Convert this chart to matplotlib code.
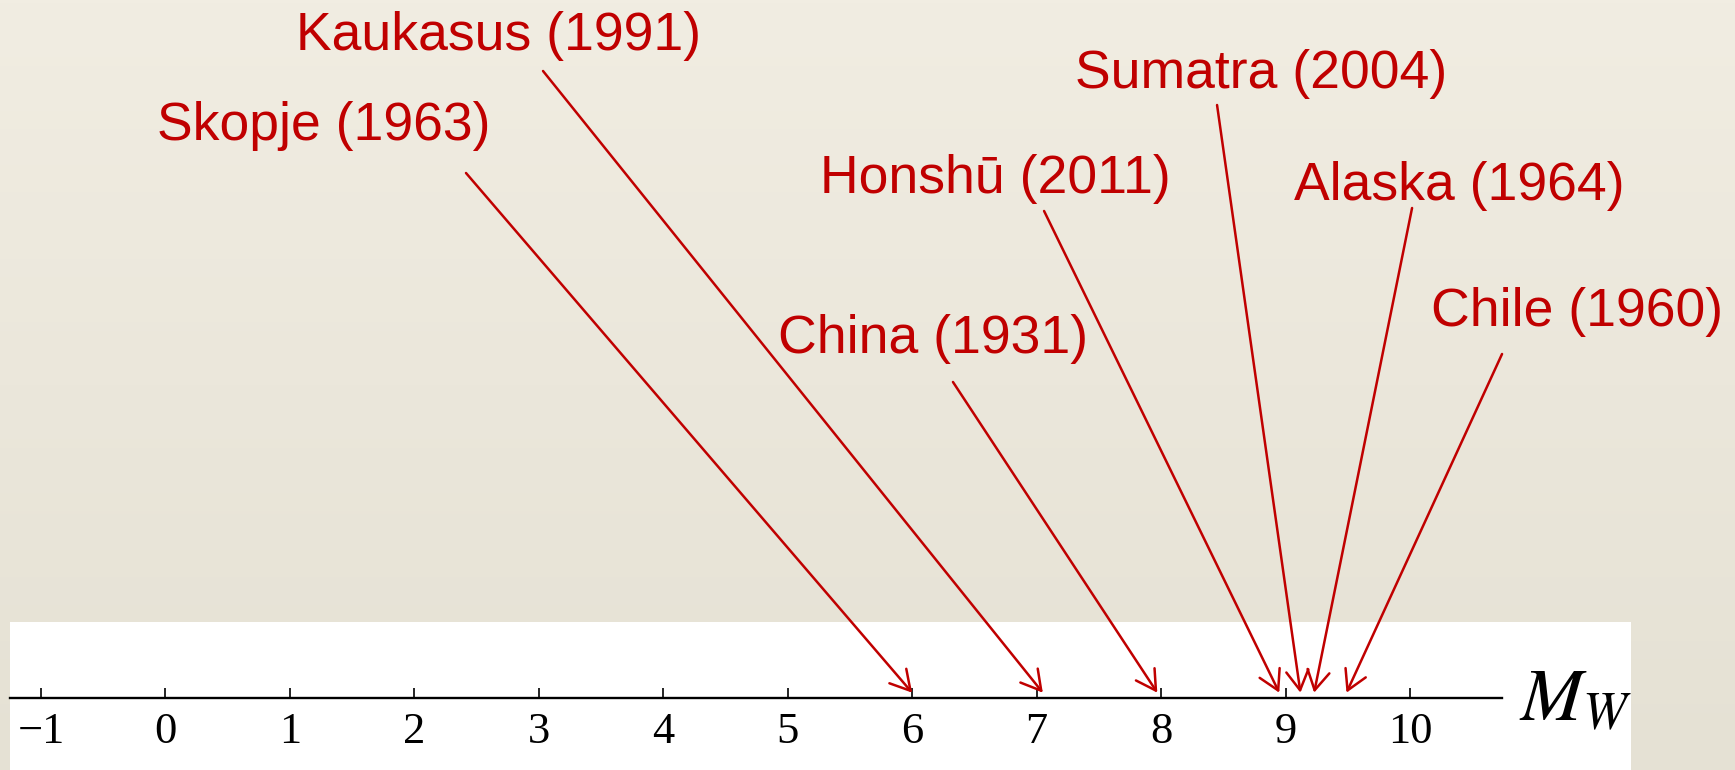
import numpy as np
import matplotlib
matplotlib.use("Agg")
import matplotlib.pyplot as plt
from matplotlib.patches import Rectangle

# ---------- data ----------
quakes = ["Skopje (1963)", "Kaukasus (1991)", "China (1931)", "Honshū (2011)",
          "Sumatra (2004)", "Alaska (1964)", "Chile (1960)"]
magnitudes = [6.0, 7.05, 7.97, 8.95, 9.12, 9.23, 9.49]
ticks = list(range(-1, 11))

# ---------- layout (x in Mw units, y in px above the number line) ----------
label_x = [1.27, 2.676, 6.168, 6.666, 8.807, 10.398, 11.342]
label_y = [557.7, 647.7, 344.7, 504.7, 609.7, 497.7, 371.7]
tail_x = [2.415, 3.034, 6.328, 7.060, 8.450, 10.017, 10.740]
tail_y = [524.7, 626.7, 315.7, 486.7, 592.7, 489.7, 343.7]

RED = "#C00000"
W, H = 1735, 770
PX_PER_UNIT = 124.45
X0_PX = 41          # pixel column of Mw = -1
AXIS_PX = 697.7     # pixel row of the number line

plt.rcParams["mathtext.fontset"] = "stix"

fig = plt.figure(figsize=(W / 100, H / 100), dpi=100)

# background gradient + white strip
bg = fig.add_axes([0, 0, 1, 1])
top = np.array([241, 237, 226]) / 255
bot = np.array([229, 225, 212]) / 255
t = np.linspace(0, 1, 256)[:, None]
grad = (top * (1 - t) + bot * t)[:, None, :]
bg.imshow(grad, aspect="auto", extent=[0, 1, 0, 1])
bg.add_patch(Rectangle((10 / W, 0), (1631 - 10) / W, (H - 622) / H,
                       transform=bg.transAxes, facecolor="white", edgecolor="none"))
bg.set_axis_off()

# number line
ax = fig.add_axes([0, 0, 1, 1])
ax.set_facecolor("none")
ax.set_xlim(-1 - X0_PX / PX_PER_UNIT, -1 + (W - X0_PX) / PX_PER_UNIT)
ax.set_ylim(AXIS_PX - H, AXIS_PX)
for s in ["top", "left", "right"]:
    ax.spines[s].set_visible(False)
ax.spines["bottom"].set_position(("data", 0))
ax.spines["bottom"].set_bounds(-1.25, 10.74)
ax.spines["bottom"].set_linewidth(1.7)
ax.set_xticks(ticks)
ax.set_xticklabels([str(v).replace("-", "\u2212") for v in ticks])
ax.tick_params(axis="x", direction="in", length=7, width=1.2, pad=10,
               labelsize=32, labelfontfamily="Liberation Serif")
ax.set_yticks([])

ax.text(10.876, -22.3, r"$M_W$", fontsize=54, ha="left", va="baseline")

# arrows + labels
for name, m, lx, ly, tx, ty in zip(quakes, magnitudes, label_x, label_y, tail_x, tail_y):
    ax.annotate("", xy=(m, 5), xytext=(tx, ty),
                arrowprops=dict(arrowstyle="->,head_length=0.7,head_width=0.4",
                                color=RED, lw=1.8, shrinkA=0, shrinkB=0,
                                mutation_scale=20))
    ax.text(lx, ly, name, ha="center", va="baseline", fontsize=38.5,
            color=RED, family="Liberation Sans")

fig.savefig("out.png", dpi=100)
